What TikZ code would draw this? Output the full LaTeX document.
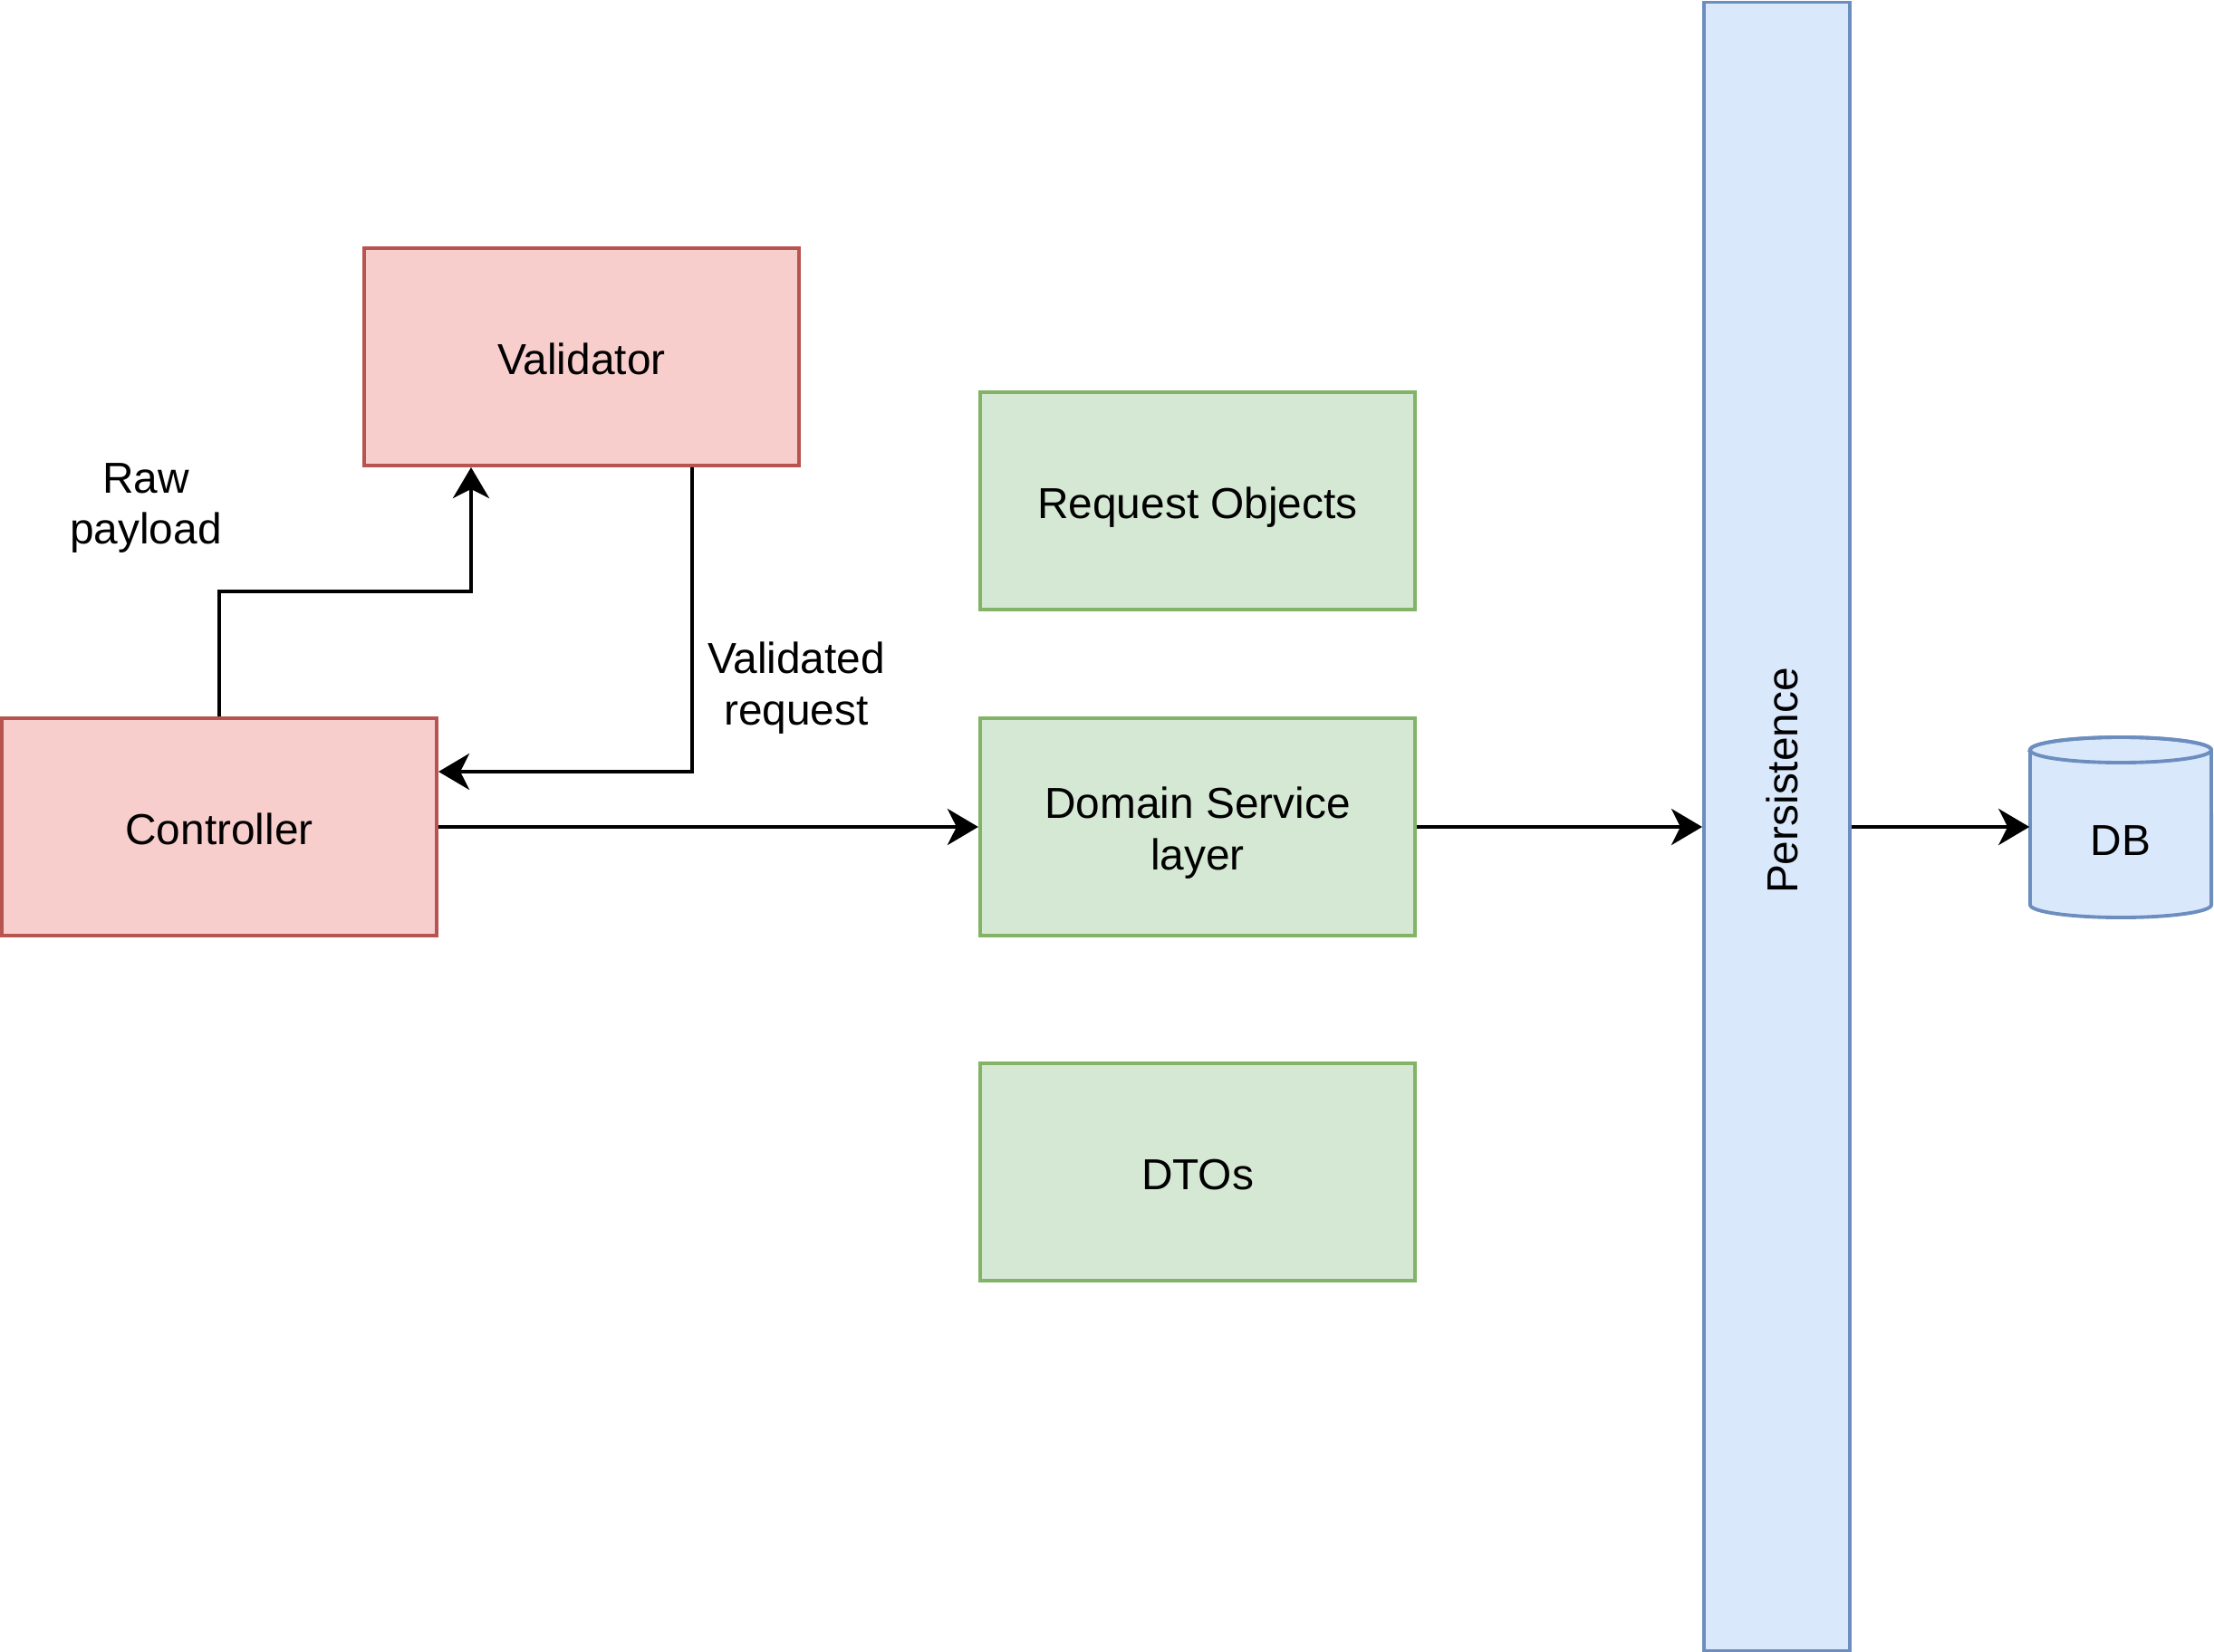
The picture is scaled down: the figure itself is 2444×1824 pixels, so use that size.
\documentclass[tikz,border=0pt]{standalone}
\usepackage{fontspec}
\setmainfont{Liberation Sans}
\usetikzlibrary{arrows.meta,calc}
\definecolor{redfill}{HTML}{F8CECC}
\definecolor{redline}{HTML}{B85450}
\definecolor{greenfill}{HTML}{D5E8D4}
\definecolor{greenline}{HTML}{82B366}
\definecolor{bluefill}{HTML}{DAE8FC}
\definecolor{blueline}{HTML}{6C8EBF}
\newcommand{\lowtext}[1]{\raisebox{-0.08cm}[\height][\depth]{\begin{tabular}{@{}c@{}}#1\end{tabular}}}
\begin{document}
\begin{tikzpicture}[x=0.01cm,y=-0.01cm,
  every node/.style={font=\fontsize{13.6}{16.2}\selectfont},
  box/.style={rectangle, draw, line width=1.1pt, minimum width=4.8cm, minimum height=2.4cm, inner sep=0pt, align=center},
  redbox/.style={box, fill=redfill, draw=redline},
  greenbox/.style={box, fill=greenfill, draw=greenline},
  bluebox/.style={rectangle, draw=blueline, fill=bluefill, line width=1.1pt, inner sep=0pt},
  conn/.style={draw=black, line width=1.15pt, -{Stealth[length=0.34cm,width=0.4cm,inset=0.1cm]}},
  lbl/.style={align=center, inner sep=0pt}]
\useasboundingbox (0,0) rectangle (2444,1824);

\node[redbox] (val) at (642,394) {\lowtext{Validator}};
\node[redbox] (ctrl) at (242,913) {\lowtext{Controller}};
\node[greenbox] (req) at (1322,553) {\lowtext{Request Objects}};
\node[greenbox] (dom) at (1322,913) {\lowtext{Domain Service\\layer}};
\node[greenbox] (dto) at (1322,1294) {\lowtext{DTOs}};
\node[bluebox, minimum width=1.61cm, minimum height=18.19cm] (pers) at (1961.5,912.5) {};
\node[rotate=90, inner sep=0pt] (perstext) at (1967,862) {Persistence};

% DB cylinder
\node[minimum width=2cm, minimum height=2cm, inner sep=0pt] (db) at (2341,913) {};
\filldraw[draw=blueline, fill=bluefill, line width=1.1pt]
  (2241,828) -- (2241,999) arc[start angle=180, end angle=360, x radius=1cm, y radius=0.14cm]
  -- (2441,828) arc[start angle=0, end angle=180, x radius=1cm, y radius=0.14cm] -- cycle;
\draw[draw=blueline, line width=1.1pt] (2341,828) ellipse[x radius=1cm, y radius=0.14cm];
\node[inner sep=0pt] (dbtext) at (2341,928) {DB};

% labels
\node[lbl] (rawlbl) at (161,561) {Raw\\payload};
\node[lbl] (vallbl) at (879,760) {Validated\\request};

% connectors
\coordinate (bendA) at (0,653);
\draw[conn] (ctrl.north) -- (ctrl.north |- bendA) -| ([xshift=1.2cm]val.south west);
\draw[conn] ([xshift=-1.2cm]val.south east) |- ($(ctrl.north east)!0.25!(ctrl.south east)$);
\draw[conn] (ctrl.east) -- (dom.west);
\draw[conn] (dom.east) -- (pers.west |- dom.east);
\draw[conn] (pers.east |- db.west) -- (db.west);
\end{tikzpicture}
\end{document}
